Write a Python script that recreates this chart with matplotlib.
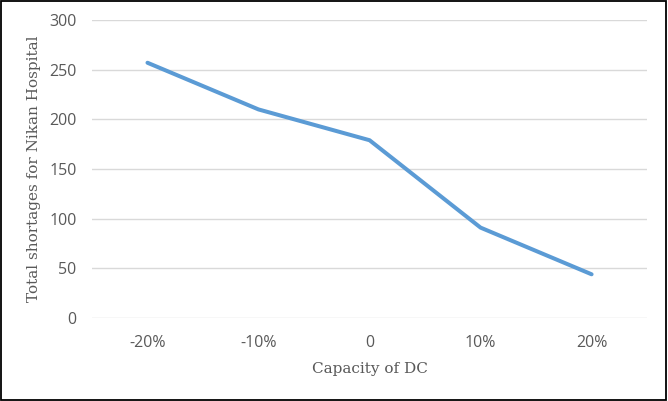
import matplotlib
matplotlib.use("Agg")
import matplotlib.pyplot as plt
from matplotlib.patches import Rectangle

# capacity scenarios and total shortages
capacidad = ["-20%", "-10%", "0", "10%", "20%"]
faltantes = [257, 210, 179, 91, 44]
y_ticks = [0, 50, 100, 150, 200, 250, 300]

fig = plt.figure(figsize=(6.68, 4.01), dpi=100)
ax = fig.add_axes([0.1377, 0.207, 0.831, 0.743])

x = list(range(len(capacidad)))
ax.plot(x, faltantes, color="#5B9BD5", linewidth=2.9, solid_capstyle="round", solid_joinstyle="round", zorder=3)

ax.set_xlim(-0.5, len(capacidad) - 0.5)
ax.set_ylim(0, 300)
ax.set_yticks(y_ticks)
ax.set_xticks(x)
ax.set_xticklabels(capacidad)
ax.yaxis.grid(True, color="#D9D9D9", linewidth=1.0)
ax.set_axisbelow(True)

for s in ax.spines.values():
    s.set_visible(False)
ax.tick_params(length=0, labelsize=11.5, labelcolor="#595959")
ax.tick_params(axis="y", pad=11)
ax.tick_params(axis="x", pad=12)
for lbl in ax.get_xticklabels() + ax.get_yticklabels():
    lbl.set_family("Open Sans")

ax.set_xlabel("Capacity of DC", family="DejaVu Serif", fontsize=11, color="#595959", labelpad=8)
ax.set_ylabel("Total shortages for Nikan Hospital", family="DejaVu Serif", fontsize=11, color="#595959", labelpad=6)

# marco alrededor de la figura
fig.patches.append(Rectangle((0.002, 0.003), 0.995, 0.994, transform=fig.transFigure,
                             fill=False, edgecolor="black", linewidth=1.3))

plt.savefig("out.png", dpi=100)
